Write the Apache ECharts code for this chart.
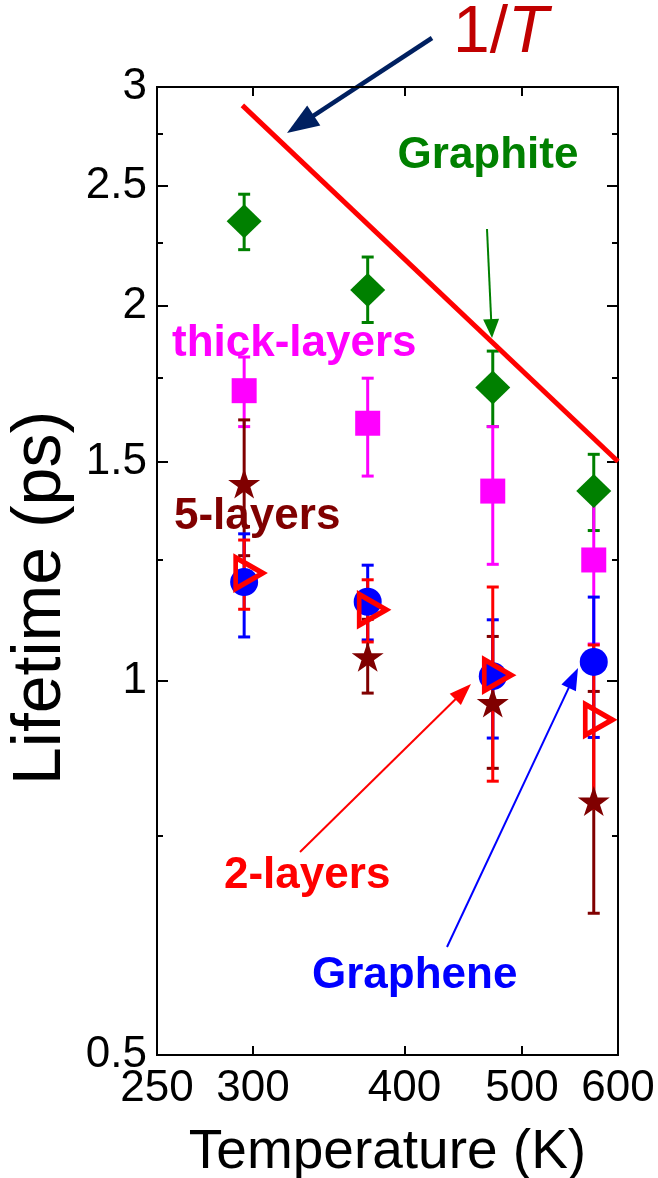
<!DOCTYPE html>
<html>
<head>
<meta charset="utf-8">
<title>Lifetime vs Temperature</title>
<script src="https://cdn.jsdelivr.net/npm/echarts@6/dist/echarts.min.js"></script>
<style>
html, body {margin: 0; padding: 0; background: #fff;}
#ct1 {width: 658px; height: 1178px;}
</style>
</head>
<body>
<div id="ct1"></div>
<script>
// 温度 (K)
var temps = [295, 373, 473, 573];

// Graphite
var graphite = [2.34, 2.06, 1.72, 1.42];
var graphiteLow = [2.22, 1.94, 1.60, 1.32];
var graphiteHigh = [2.46, 2.19, 1.84, 1.52];
// thick-layers
var thick = [1.71, 1.61, 1.42, 1.25];
var thickLow = [1.60, 1.46, 1.24, 1.07];
var thickHigh = [1.82, 1.75, 1.60, 1.43];
// 5-layers
var five = [1.44, 1.045, 0.96, 0.80];
var fiveLow = [1.26, 0.977, 0.85, 0.65];
var fiveHigh = [1.62, 1.12, 1.085, 0.98];
// Graphene
var graphene = [1.20, 1.157, 1.008, 1.035];
var grapheneLow = [1.084, 1.078, 0.899, 0.90];
var grapheneHigh = [1.312, 1.238, 1.119, 1.167];
// 2-layers
var two = [1.22, 1.14, 1.01, 0.93];
var twoLow = [1.141, 1.074, 0.83, 0.79];
var twoHigh = [1.297, 1.205, 1.189, 1.068];

// 1/T 参考线
var invTemps = [294, 600];
var invValues = [2.9, 1.5];

// 刻度
var xTickLabels = [250, 300, 400, 500, 600];
var xTicks = [300, 400, 500, 600];
var yTickLabels = [0.5, 1, 1.5, 2, 2.5, 3];
var yMinorTicks = [0.75, 1.25, 1.75, 2.25, 2.75];

var FONT = 'Liberation Sans, Arial, sans-serif';
var starPath = 'path://M50,0 L61.8,35.5 L99,35.5 L69,57.5 L80.5,93 L50,71 L19.5,93 L31,57.5 L1,35.5 L38.2,35.5 Z';

function pairs(xs, ys) {
    var out = [];
    for (var i = 0; i < xs.length; i++) {
        out.push([xs[i], ys[i]]);
    }
    return out;
}

function triples(xs, lo, hi) {
    var out = [];
    for (var i = 0; i < xs.length; i++) {
        out.push([xs[i], lo[i], hi[i]]);
    }
    return out;
}

function errorBars(name, color, lo, hi) {
    return {
        name: name + '-err',
        type: 'custom',
        coordinateSystem: 'cartesian2d',
        silent: true,
        encode: {x: 0, y: [1, 2]},
        data: triples(temps, lo, hi),
        renderItem: function (params, api) {
            var x = api.value(0);
            var p1 = api.coord([x, api.value(1)]);
            var p2 = api.coord([x, api.value(2)]);
            var w = 6;
            var st = {stroke: color, lineWidth: 3};
            return {
                type: 'group',
                children: [
                    {type: 'line', shape: {x1: p1[0], y1: p1[1], x2: p2[0], y2: p2[1]}, style: st},
                    {type: 'line', shape: {x1: p1[0] - w, y1: p1[1], x2: p1[0] + w, y2: p1[1]}, style: st},
                    {type: 'line', shape: {x1: p2[0] - w, y1: p2[1], x2: p2[0] + w, y2: p2[1]}, style: st}
                ]
            };
        }
    };
}

function points(name, values, symbol, size, style, extra) {
    style.opacity = 1;
    var s = {
        name: name,
        type: 'scatter',
        symbol: symbol,
        symbolSize: size,
        itemStyle: style,
        data: pairs(temps, values)
    };
    for (var k in extra) {
        s[k] = extra[k];
    }
    return s;
}

// 标注 (像素位置)
var notes = [
    {text: 'Graphite', x: 488, y: 156, align: 'center', color: '#008000'},
    {text: 'thick-layers', x: 172, y: 344, align: 'left', color: '#ff00ff'},
    {text: '5-layers', x: 174, y: 517, align: 'left', color: '#800000'},
    {text: '2-layers', x: 224, y: 876, align: 'left', color: '#ff0000'},
    {text: 'Graphene', x: 312, y: 976, align: 'left', color: '#0000ff'}
];
var arrows = [
    {from: [432, 38], to: [287, 133], color: '#002060', width: 4.5, len: 32, half: 12},
    {from: [487, 229], to: [492, 338], color: '#008000', width: 2, len: 19, half: 8},
    {from: [300, 852], to: [471, 684], color: '#ff0000', width: 2, len: 22, half: 8},
    {from: [447, 947], to: [578, 668], color: '#0000ff', width: 2, len: 22, half: 8}
];

function buildGraphics() {
    var g = [];
    notes.forEach(function (n) {
        g.push({
            type: 'text', x: n.x, y: n.y, silent: true,
            style: {text: n.text, fill: n.color, font: 'bold 44px ' + FONT, align: n.align, verticalAlign: 'middle'}
        });
    });
    g.push({
        type: 'text', x: 453, y: 34, silent: true,
        style: {text: '1/', fill: '#c00000', font: '66px ' + FONT, align: 'left', verticalAlign: 'middle'}
    });
    g.push({
        type: 'text', x: 508, y: 34, silent: true,
        style: {text: 'T', fill: '#c00000', font: 'italic 66px ' + FONT, align: 'left', verticalAlign: 'middle'}
    });
    arrows.forEach(function (a) {
        var dx = a.to[0] - a.from[0], dy = a.to[1] - a.from[1];
        var d = Math.sqrt(dx * dx + dy * dy);
        var ux = dx / d, uy = dy / d;
        var bx = a.to[0] - ux * a.len, by = a.to[1] - uy * a.len;
        g.push({
            type: 'line', silent: true,
            shape: {x1: a.from[0], y1: a.from[1], x2: bx + ux * 2, y2: by + uy * 2},
            style: {stroke: a.color, lineWidth: a.width}
        });
        g.push({
            type: 'polygon', silent: true,
            shape: {points: [a.to, [bx - uy * a.half, by + ux * a.half], [bx + uy * a.half, by - ux * a.half]]},
            style: {fill: a.color}
        });
    });
    return g;
}

function logY(position, ticks, len, withLabel) {
    return {
        type: 'log', min: 0.5, max: 3, position: position,
        axisLine: {show: true, lineStyle: {color: '#000', width: 2}},
        axisTick: {show: true, inside: true, length: len, customValues: ticks, lineStyle: {color: '#000', width: 2}},
        axisLabel: withLabel ? {
            show: true, customValues: ticks, margin: 10, color: '#000', fontSize: 44, fontFamily: FONT,
            formatter: function (v) { return String(v); }
        } : {show: false},
        splitLine: {show: false},
        minorTick: {show: false}
    };
}

function logX(position, withLabel) {
    return {
        type: 'log', min: 250, max: 600, position: position,
        axisLine: {show: true, lineStyle: {color: '#000', width: 2}},
        axisTick: {show: true, inside: true, length: 9, customValues: xTicks, lineStyle: {color: '#000', width: 2}},
        axisLabel: withLabel ? {
            show: true, customValues: xTickLabels, margin: 12, color: '#000', fontSize: 44, fontFamily: FONT,
            formatter: function (v) { return String(v); }
        } : {show: false},
        splitLine: {show: false}
    };
}

var option1 = {
    animation: false,
    backgroundColor: '#fff',
    grid: {left: 157, right: 40, top: 87, bottom: 123, outerBoundsMode: 'none', containLabel: false},
    xAxis: [
        (function () {
            var a = logX('bottom', true);
            a.name = 'Temperature (K)';
            a.nameLocation = 'middle';
            a.nameGap = 70;
            a.nameTextStyle = {color: '#000', fontSize: 55, fontFamily: FONT};
            return a;
        })(),
        logX('top', false)
    ],
    yAxis: [
        (function () {
            var a = logY('left', yTickLabels, 11, true);
            a.name = 'Lifetime (ps)';
            a.nameLocation = 'middle';
            a.nameGap = 72;
            a.nameTextStyle = {color: '#000', fontSize: 68, fontFamily: FONT, padding: [0, 54, 0, 0]};
            return a;
        })(),
        logY('left', yMinorTicks, 6, false),
        logY('right', yTickLabels, 11, false),
        logY('right', yMinorTicks, 6, false)
    ],
    series: [
        {
            name: '1/T', type: 'line', showSymbol: false, symbol: 'none',
            lineStyle: {color: '#ff0000', width: 5},
            data: pairs(invTemps, invValues)
        },
        errorBars('Graphite', '#008000', graphiteLow, graphiteHigh),
        points('Graphite', graphite, 'diamond', [35, 34], {color: '#008000'}),
        errorBars('thick-layers', '#ff00ff', thickLow, thickHigh),
        points('thick-layers', thick, 'rect', 25, {color: '#ff00ff'}),
        errorBars('5-layers', '#800000', fiveLow, fiveHigh),
        points('5-layers', five, starPath, [32, 30], {color: '#800000'}),
        errorBars('Graphene', '#0000ff', grapheneLow, grapheneHigh),
        points('Graphene', graphene, 'circle', 28, {color: '#0000ff'}),
        errorBars('2-layers', '#ff0000', twoLow, twoHigh),
        points('2-layers', two, 'triangle', [31, 27],
            {color: 'rgba(0,0,0,0)', borderColor: '#ff0000', borderWidth: 5},
            {symbolRotate: -90, symbolOffset: [5, 0]})
    ],
    graphic: buildGraphics()
};

var myChart1;
function initMyChar1() {
    if (myChart1 && myChart1.dispose) {
        myChart1.dispose();
    }
    myChart1 = echarts.init(document.getElementById('ct1'));
    window.onresize = myChart1.resize;
    myChart1.setOption(option1, true);
}

initMyChar1();
</script>
</body>
</html>
